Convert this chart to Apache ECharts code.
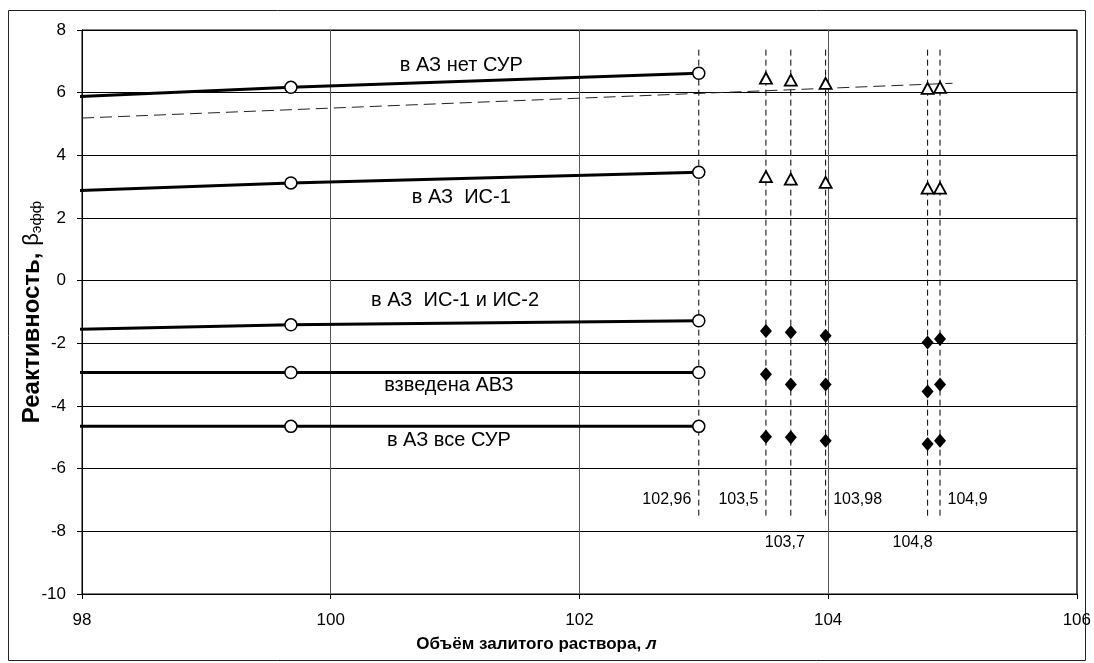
<!DOCTYPE html>
<html>
<head>
<meta charset="utf-8">
<script src="https://cdn.jsdelivr.net/npm/echarts@6/dist/echarts.min.js"></script>
<style>
html,body{margin:0;padding:0;background:#fff;}
#chart{width:1094px;height:663px;}
</style>
</head>
<body>
<div id="chart"></div>
<script>
// ---------- data ----------
const curveX = [97.95, 99.68, 102.96];
const curveNames = ['в АЗ нет СУР', 'в АЗ  ИС-1', 'в АЗ  ИС-1 и ИС-2', 'взведена АВЗ', 'в АЗ все СУР'];
const curveNoCR = [5.87, 6.17, 6.62];
const curveIS1 = [2.87, 3.12, 3.46];
const curveIS12 = [-1.55, -1.41, -1.28];
const curveAVZ = [-2.93, -2.93, -2.93];
const curveAll = [-4.65, -4.65, -4.65];

const measX = [103.5, 103.7, 103.98, 104.8, 104.9];
const triUpper = [6.46, 6.40, 6.30, 6.14, 6.17];
const triLower = [3.32, 3.24, 3.14, 2.95, 2.95];
const diaA = [-1.61, -1.65, -1.76, -1.97, -1.86];
const diaB = [-2.99, -3.31, -3.31, -3.54, -3.31];
const diaC = [-4.98, -5.00, -5.11, -5.21, -5.11];

const trendX = [98, 105];
const trendY = [5.19, 6.30];

const vLineX = [102.96, 103.5, 103.7, 103.98, 104.8, 104.9];
const vLineLabels = ['102,96', '103,5', '103,7', '103,98', '104,8', '104,9'];
const vLineRange = [-7.5, 7.5];

// annotation anchors (data coords) for curve names
const curveLabelPos = [[101.05, 6.88], [101.05, 2.64], [101.0, -0.64], [100.95, -3.35], [100.95, -5.09]];
// vertical line labels: rows (upper/lower) and side
const vLabelRowY = [-7.0, -8.36];
const vLabelPlace = [['left', 0], ['left', 0], ['under', 1], ['right', 0], ['under', 1], ['right', 0]];

// ---------- chart ----------
const FONT = 'Liberation Sans, Arial, sans-serif';
const chart = echarts.init(document.getElementById('chart'), null, {renderer: 'canvas'});

function curveSeries(ys) {
  return {
    type: 'line', clip: false, silent: true,
    data: curveX.map((x, i) => ({value: [x, ys[i]], symbol: i === 0 ? 'none' : 'circle'})),
    symbolSize: 12, showAllSymbol: true,
    lineStyle: {color: '#000', width: 3},
    itemStyle: {color: '#fff', borderColor: '#000', borderWidth: 1.5, opacity: 1},
    z: 5
  };
}
function markerSeries(ys, kind) {
  const tri = kind === 'tri';
  return {
    type: 'scatter', silent: true,
    data: measX.map((x, i) => [x, ys[i]]),
    symbol: tri ? 'triangle' : 'diamond',
    symbolSize: tri ? [12, 11] : [12, 14],
    itemStyle: tri ? {color: '#fff', borderColor: '#000', borderWidth: 1.8, opacity: 1}
                   : {color: '#000', opacity: 1},
    z: 6
  };
}

const series = [];
vLineX.forEach(x => {
  series.push({
    type: 'line', silent: true, symbol: 'none',
    data: [[x, vLineRange[0]], [x, vLineRange[1]]],
    lineStyle: {color: '#000', width: 1, type: [6, 4]}, z: 3
  });
});
series.push({
  type: 'line', silent: true, symbol: 'none',
  data: trendX.map((x, i) => [x, trendY[i]]),
  lineStyle: {color: '#222', width: 1, type: [12, 6]}, z: 3
});
[curveNoCR, curveIS1, curveIS12, curveAVZ, curveAll].forEach(ys => series.push(curveSeries(ys)));
series.push(markerSeries(triUpper, 'tri'));
series.push(markerSeries(triLower, 'tri'));
series.push(markerSeries(diaA, 'dia'));
series.push(markerSeries(diaB, 'dia'));
series.push(markerSeries(diaC, 'dia'));

const hidden = {color: 'rgba(255,255,255,0)', borderWidth: 0, opacity: 1};
series.push({
  type: 'scatter', silent: true, symbol: 'circle', symbolSize: 1, itemStyle: hidden,
  data: curveLabelPos.map((p, i) => ({value: p, name: curveNames[i]})),
  label: {show: true, position: 'inside', formatter: p => p.name,
          color: '#000', textBorderWidth: 0, opacity: 1, fontSize: 20, fontFamily: FONT},
  z: 7
});
series.push({
  type: 'scatter', silent: true, symbol: 'circle', symbolSize: 1, itemStyle: hidden,
  data: vLineX.map((x, i) => {
    const pl = vLabelPlace[i];
    let lab;
    if (pl[0] === 'left') lab = {position: 'left', distance: 7};
    else if (pl[0] === 'right') lab = {position: 'right', distance: 7};
    else lab = {position: 'inside', offset: [i === 2 ? -6 : -15, 0]};
    return {value: [x, vLabelRowY[pl[1]]], name: vLineLabels[i], label: lab};
  }),
  label: {show: true, formatter: p => p.name, color: '#000', textBorderWidth: 0, opacity: 1,
          fontSize: 16, fontFamily: FONT},
  z: 7
});

chart.setOption({
  animation: false,
  backgroundColor: '#fff',
  textStyle: {fontFamily: FONT},
  graphic: [{
    type: 'rect', shape: {x: 8.5, y: 10.5, width: 1077, height: 650},
    style: {fill: 'none', stroke: '#222', lineWidth: 1}, silent: true, z: -10
  }],
  grid: {left: 82, right: 14, top: 30, bottom: 69, show: true, borderColor: '#000', borderWidth: 1},
  xAxis: {
    type: 'value', min: 98, max: 106, interval: 2,
    axisLine: {show: true, onZero: false, lineStyle: {color: '#000', width: 1}},
    axisTick: {show: true, length: 5, lineStyle: {color: '#000'}},
    axisLabel: {color: '#000', fontSize: 17, margin: 18, fontFamily: FONT},
    splitLine: {show: true, lineStyle: {color: '#555', width: 1}},
    name: 'Объём залитого раствора, {i|л}',
    nameLocation: 'middle', nameGap: 42,
    nameTextStyle: {color: '#000', fontSize: 17, fontWeight: 'bold', fontFamily: FONT,
      padding: [0, 86, 0, 0],
      rich: {i: {fontStyle: 'italic', fontWeight: 'bold', fontSize: 17, color: '#000', fontFamily: FONT}}}
  },
  yAxis: {
    type: 'value', min: -10, max: 8, interval: 2,
    axisLine: {show: true, onZero: false, lineStyle: {color: '#000', width: 1}},
    axisTick: {show: true, length: 5, lineStyle: {color: '#000'}},
    axisLabel: {color: '#000', fontSize: 17, margin: 16, fontFamily: FONT},
    splitLine: {show: true, lineStyle: {color: '#000', width: 1}},
    name: '{a|Реактивность,}  {b|β}{c|эфф}',
    nameLocation: 'middle', nameGap: 38, nameRotate: 90, nameMoveOverlap: false,
    nameTextStyle: {
      rich: {
        a: {fontSize: 24, fontWeight: 'bold', color: '#000', fontFamily: FONT},
        b: {fontSize: 22, color: '#000', fontFamily: FONT},
        c: {fontSize: 15, color: '#000', fontFamily: FONT, verticalAlign: 'bottom', padding: [8, 0, 0, 0]}
      }
    }
  },
  series: series
});
</script>
</body>
</html>
